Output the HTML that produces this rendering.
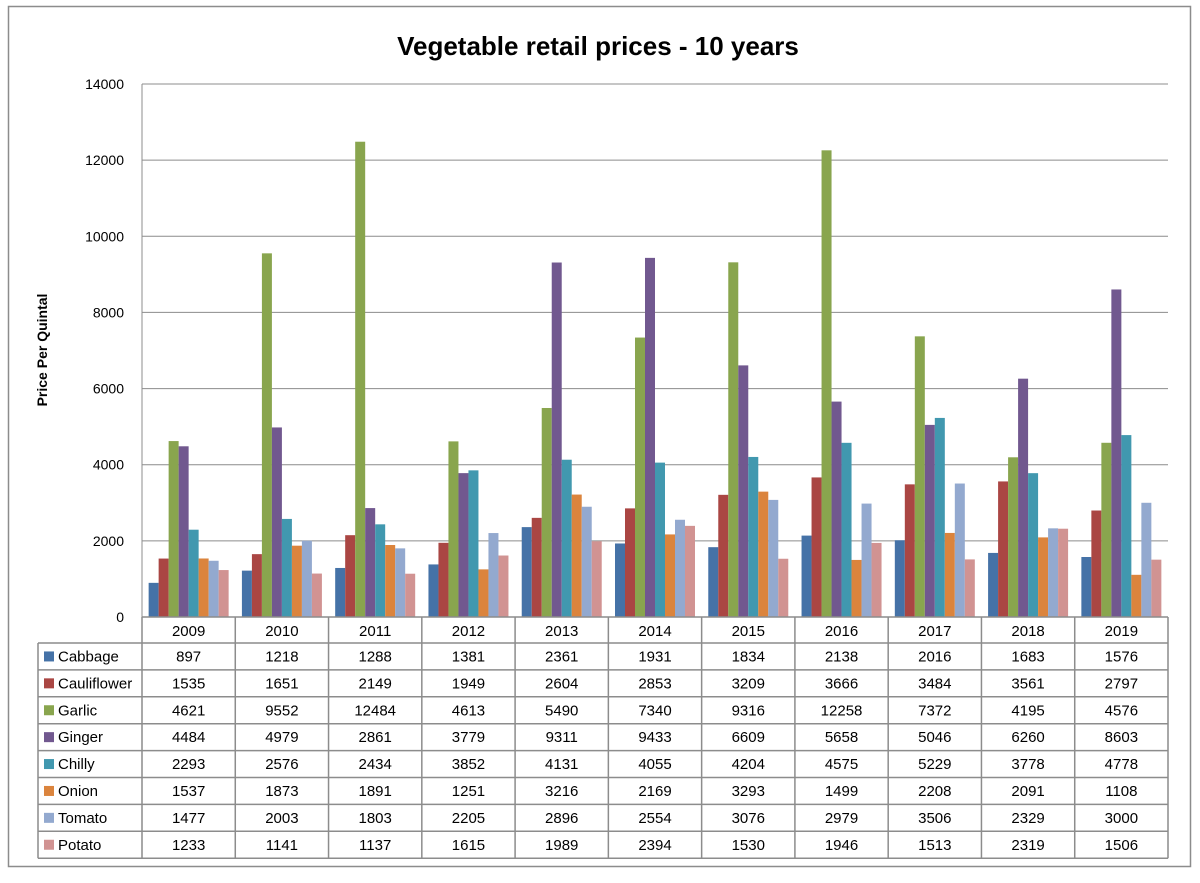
<!DOCTYPE html>
<html><head><meta charset="utf-8"><style>
body{margin:0;background:#fff;}
svg text{font-family:"Liberation Sans",sans-serif;}
</style></head><body>
<svg id="c" width="1200" height="878" xmlns="http://www.w3.org/2000/svg">
<rect x="8.5" y="6.5" width="1182" height="860" fill="#fff" stroke="#8c8c8c" stroke-width="1.5"/>
<text x="598" y="55" text-anchor="middle" font-size="26" font-weight="bold" fill="#000">Vegetable retail prices - 10 years</text>
<text transform="translate(47,350) rotate(-90)" text-anchor="middle" font-size="14" font-weight="bold">Price Per Quintal</text>
<g id="grid"></g><g id="bars"></g><g id="tbl"></g>
</svg>
<script>
const categories=["2009","2010","2011","2012","2013","2014","2015","2016","2017","2018","2019"];
const seriesNames=["Cabbage","Cauliflower","Garlic","Ginger","Chilly","Onion","Tomato","Potato"];
const cabbage=[897,1218,1288,1381,2361,1931,1834,2138,2016,1683,1576];
const cauliflower=[1535,1651,2149,1949,2604,2853,3209,3666,3484,3561,2797];
const garlic=[4621,9552,12484,4613,5490,7340,9316,12258,7372,4195,4576];
const ginger=[4484,4979,2861,3779,9311,9433,6609,5658,5046,6260,8603];
const chilly=[2293,2576,2434,3852,4131,4055,4204,4575,5229,3778,4778];
const onion=[1537,1873,1891,1251,3216,2169,3293,1499,2208,2091,1108];
const tomato=[1477,2003,1803,2205,2896,2554,3076,2979,3506,2329,3000];
const potato=[1233,1141,1137,1615,1989,2394,1530,1946,1513,2319,1506];
const yTicks=[0,2000,4000,6000,8000,10000,12000,14000];
const series=[cabbage,cauliflower,garlic,ginger,chilly,onion,tomato,potato];
const colors=["#4572a7","#aa4643","#89a54e","#71588f","#4198af","#db843d","#93a9cf","#d19392"];
const NS="http://www.w3.org/2000/svg";
const X0=142,X1=1168,Y0=617,Y1=84,YMAX=14000;
const cw=(X1-X0)/categories.length;
const y=v=>Y0-(v/YMAX)*(Y0-Y1);
const x=i=>X0+i*cw;
function mk(tag,attrs,parent){const e=document.createElementNS(NS,tag);for(const k in attrs)e.setAttribute(k,attrs[k]);parent.appendChild(e);return e;}
const grid=document.getElementById('grid'),bars=document.getElementById('bars'),tbl=document.getElementById('tbl');
yTicks.forEach(t=>{
  if(t>0){const l=mk('line',{x1:X0,x2:X1,y1:y(t),y2:y(t),stroke:'#8c8c8c','stroke-width':1},grid);
  
  }
  const tx=mk('text',{x:124,y:y(t)+5,'text-anchor':'end','font-size':14},grid);tx.textContent=t;
  
  
});
mk('line',{x1:X0,x2:X0,y1:Y1,y2:Y0,stroke:'#8c8c8c'},grid);
const bw=10, off=(cw-bw*8)/2;
categories.forEach((c,i)=>{
  series.forEach((s,j)=>{
    const v=s[i];
    const r=mk('rect',{x:x(i)+off+j*bw,y:y(v),width:bw,height:Y0-y(v),fill:colors[j]},bars);
    
    
  });
});
const TL=38,RH=26.9,HT=617,HB=643;
const ln=(a,b,c,d)=>mk('line',{x1:a,y1:b,x2:c,y2:d,stroke:'#8c8c8c','stroke-width':1.5},tbl);
const TB=HB+RH*8;
ln(X0,HT,X1,HT);ln(X1,HT,X1,TB);ln(X0,HT,X0,TB);
ln(TL,HB,X1,HB);ln(TL,HB,TL,TB);ln(TL,TB,X1,TB);
for(let r=1;r<8;r++)ln(TL,HB+r*RH,X1,HB+r*RH);
for(let i=1;i<categories.length;i++)ln(x(i),HT,x(i),TB);
categories.forEach((c,i)=>{
  const t=mk('text',{x:x(i)+cw/2,y:HT+19,'text-anchor':'middle','font-size':15},tbl);t.textContent=c;
  
  
});
seriesNames.forEach((n,j)=>{
  const cy=HB+j*RH+RH/2;
  const k=mk('rect',{x:44,y:cy-5,width:10,height:10,fill:colors[j]},tbl);
  
  
  const t=mk('text',{x:58,y:cy+5,'font-size':15},tbl);t.textContent=n;
  
  
  categories.forEach((c,i)=>{
    const v=mk('text',{x:x(i)+cw/2,y:cy+5,'text-anchor':'middle','font-size':15},tbl);v.textContent=series[j][i];
    
    
  });
});
</script>
</body></html>
